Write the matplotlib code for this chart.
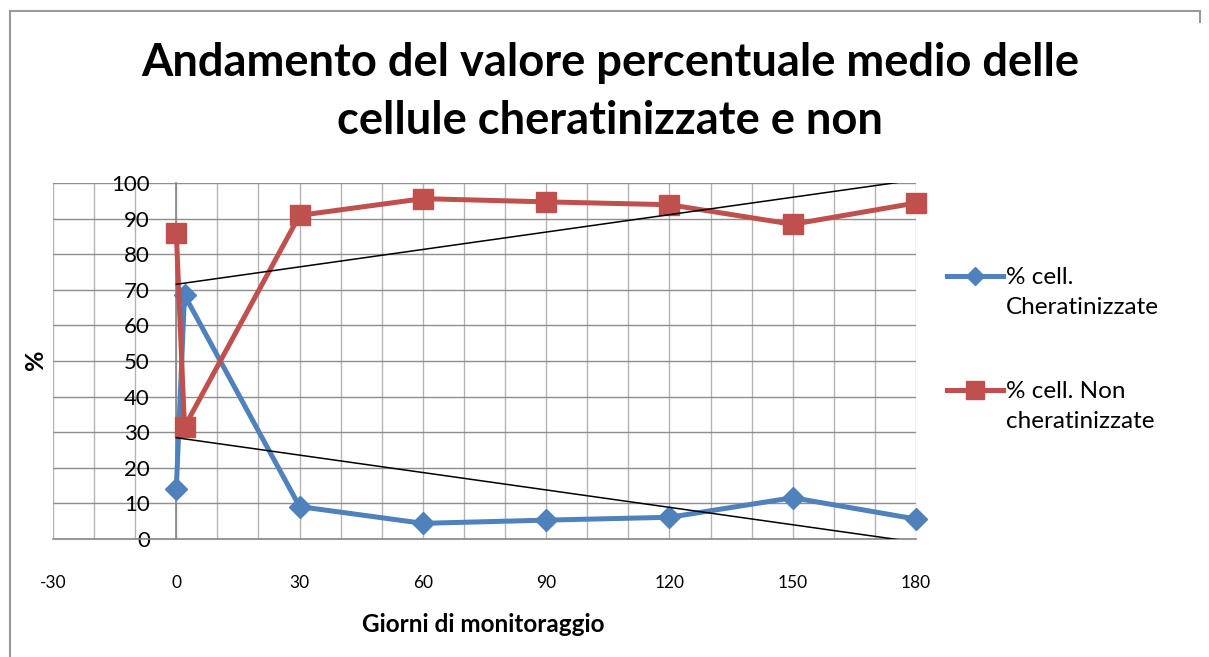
import numpy as np
import matplotlib.pyplot as plt
from matplotlib.lines import Line2D

# dati
giorni = [0, 2, 30, 60, 90, 120, 150, 180]
cheratinizzate = [14.0, 68.5, 9.1, 4.4, 5.3, 6.1, 11.6, 5.6]
non_cheratinizzate = [86.0, 31.5, 90.9, 95.6, 94.7, 93.9, 88.4, 94.4]

titolo = 'Andamento del valore percentuale medio delle\ncellule cheratinizzate e non'
etichette = ['% cell.\nCheratinizzate', '% cell. Non\ncheratinizzate']
x_ticks = [-30, 0, 30, 60, 90, 120, 150, 180]
y_ticks = list(range(0, 101, 10))

blu = '#4F81BD'
rosso = '#C0504D'

plt.rcParams['font.family'] = ['Lato', 'DejaVu Sans']

W, H = 1209, 657
fig = plt.figure(figsize=(W / 100, H / 100), dpi=100)

# area del grafico (pixel misurati)
left, right, top, bottom = 53, 916, 183, 539
ax = fig.add_axes([left / W, 1 - bottom / H, (right - left) / W, (bottom - top) / H])
ax.set_xlim(-30, 180)
ax.set_ylim(0, 100)

# griglia
for xv in range(-30, 181, 10):
    ax.axvline(xv, color='#b4b4b4', lw=1.0, zorder=0)
for yv in y_ticks:
    ax.axhline(yv, color='#8e8e8e', lw=1.0, zorder=0)

for s in ['top', 'right']:
    ax.spines[s].set_visible(False)
ax.spines['left'].set_position(('data', 0))
ax.spines['left'].set_color('#868686')
ax.spines['bottom'].set_color('#868686')
ax.spines['left'].set_linewidth(1.2)
ax.spines['bottom'].set_linewidth(1.2)

ax.set_xticks(x_ticks)
ax.set_xticklabels([str(v) for v in x_ticks])
ax.set_yticks(y_ticks)
ax.tick_params(axis='x', length=0, pad=26, labelsize=12.5)
ax.tick_params(axis='y', length=0, pad=19, labelsize=16)

# serie
ax.plot(giorni, cheratinizzate, color=blu, lw=3.6, marker='D', ms=11,
        clip_on=False, zorder=3)
ax.plot(giorni, non_cheratinizzate, color=rosso, lw=3.6, marker='s', ms=14.5,
        clip_on=False, zorder=4)

# linee di tendenza lineari
xt = np.array([0, 180])
for serie in [cheratinizzate, non_cheratinizzate]:
    p = np.polyfit(giorni, serie, 1)
    ax.plot(xt, np.polyval(p, xt), color='black', lw=1.1, zorder=5)

# titolo e assi
fig.text(610 / W, 1 - 92 / H, titolo, ha='center', va='center',
         fontsize=32.6, fontweight='bold', linespacing=1.48)
fig.text(483 / W, 1 - 625 / H, 'Giorni di monitoraggio', ha='center', va='center',
         fontsize=17.5, fontweight='bold')
fig.text(35 / W, 1 - 360 / H, '%', ha='center', va='center', rotation=90,
         fontsize=18, fontweight='bold')

# legenda manuale
for i, (lab, col, mk, ms) in enumerate(zip(etichette, [blu, rosso], ['D', 's'], [11, 14.5])):
    yl = 276 + i * 114
    fig.add_artist(Line2D([947 / W, 1003 / W], [1 - yl / H] * 2, color=col, lw=3.6,
                          transform=fig.transFigure))
    fig.add_artist(Line2D([975 / W], [1 - yl / H], color=col, marker=mk, ms=ms * 0.85,
                          transform=fig.transFigure))
    fig.text(1006 / W, 1 - (yl - 9) / H, lab, ha='left', va='top', fontsize=17.5,
             linespacing=1.52)

# cornice
fig.add_artist(Line2D([10 / W, 10 / W], [0, 1 - 11 / H], color='#999999', lw=1.5,
                      transform=fig.transFigure))
fig.add_artist(Line2D([10 / W, 1200 / W], [1 - 11 / H] * 2, color='#999999', lw=1.5,
                      transform=fig.transFigure))
fig.add_artist(Line2D([1200 / W, 1200 / W], [1 - 11 / H, 1 - 22 / H], color='#999999', lw=1.5,
                      transform=fig.transFigure))

fig.savefig('out.png', dpi=100)
